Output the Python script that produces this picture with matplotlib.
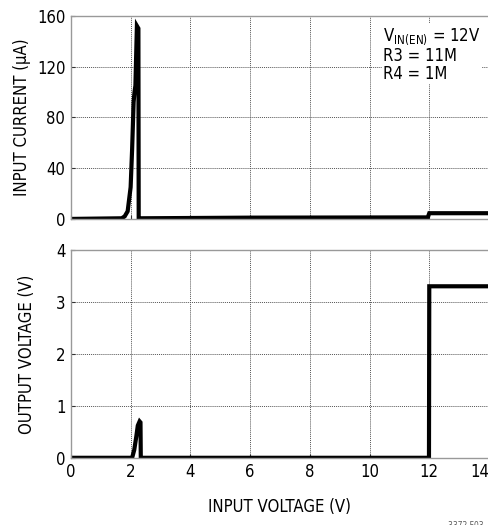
import matplotlib
matplotlib.use("Agg")
import matplotlib.pyplot as plt

plt.rcParams['font.family'] = ['DejaVu Sans']
plt.rcParams['font.stretch'] = 'condensed'

# input current (uA) vs input voltage (V)
vin_i = [0, 1.70, 1.80, 1.90, 2.00, 2.05, 2.10, 2.13, 2.16, 2.21, 2.26, 2.27,
         2.30, 6.0, 11.95, 12.0, 14.0]
iin = [0, 0.5, 2, 6, 25, 55, 92, 100, 105, 152, 150, 0,
       0.5, 1.0, 1.2, 4.5, 4.5]

# output voltage (V) vs input voltage (V)
vin_o = [0, 2.05, 2.12, 2.19, 2.24, 2.30, 2.33, 2.34, 11.99, 12.0, 14.0]
vout = [0, 0, 0.15, 0.41, 0.62, 0.70, 0.68, 0, 0, 3.3, 3.3]

xticks = [0, 2, 4, 6, 8, 10, 12, 14]
yticks_i = [0, 40, 80, 120, 160]
yticks_o = [0, 1, 2, 3, 4]

fig = plt.figure(figsize=(4.89, 5.25), dpi=100)
ax1 = fig.add_axes([0.145, 0.583, 0.855, 0.387])
ax2 = fig.add_axes([0.145, 0.128, 0.855, 0.396])

for ax in (ax1, ax2):
    ax.set_xlim(0, 14)
    ax.set_xticks(xticks)
    ax.grid(True, color='#555555', linestyle=(0, (1, 1)), linewidth=0.7)
    for s in ax.spines.values():
        s.set_color('#999999')
        s.set_linewidth(1.0)
    ax.tick_params(direction='in', length=3, color='#333333',
                   labelsize=12, pad=4)

ax1.plot(vin_i, iin, color='black', linewidth=3, solid_joinstyle='miter')
ax1.set_ylim(0, 160)
ax1.set_yticks(yticks_i)
ax1.set_xticklabels([])
ax1.set_ylabel('INPUT CURRENT (µA)', fontsize=12, labelpad=4)
ax1.text(0.747, 0.95, '$\\mathregular{V_{IN(EN)}}$ = 12V\nR3 = 11M\nR4 = 1M',
         transform=ax1.transAxes, ha='left', va='top', fontsize=12,
         linespacing=1.0, bbox=dict(facecolor='white', edgecolor='none', pad=1))

ax2.plot(vin_o, vout, color='black', linewidth=3, solid_joinstyle='miter')
ax2.set_ylim(0, 4)
ax2.set_yticks(yticks_o)
ax2.set_ylabel('OUTPUT VOLTAGE (V)', fontsize=12, labelpad=14)
ax2.set_xlabel('INPUT VOLTAGE (V)', fontsize=12, labelpad=12)
ax2.get_xticklabels()[-1].set_horizontalalignment('right')

fig.text(0.99, 0.0, '3372 F03', ha='right', va='center', fontsize=6, color='#555555')

fig.savefig('out.png', dpi=100)
